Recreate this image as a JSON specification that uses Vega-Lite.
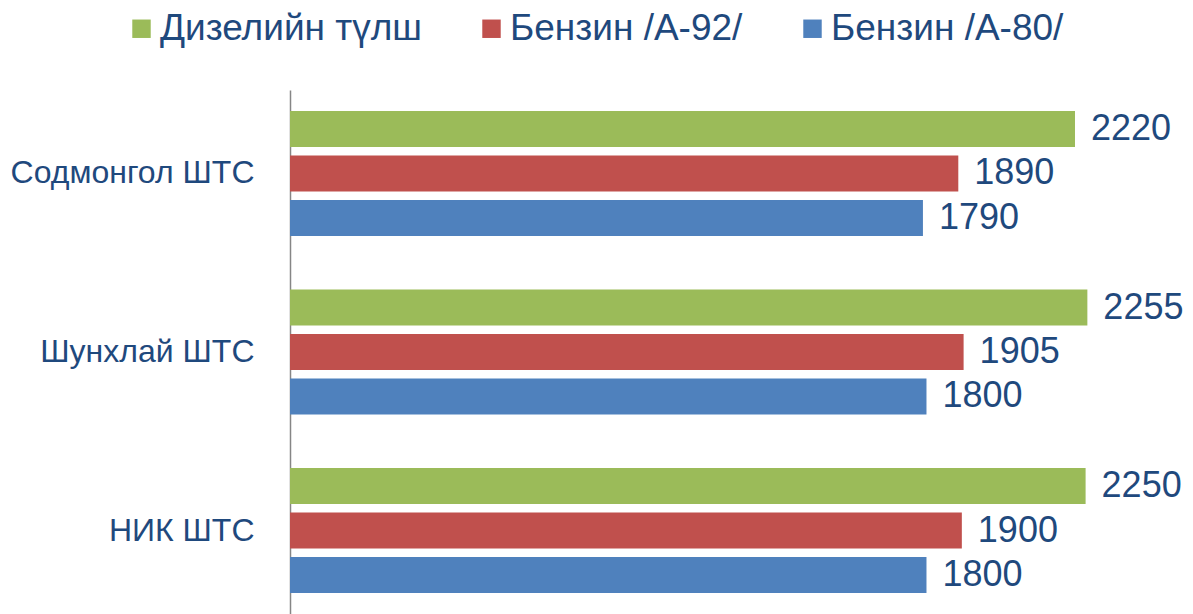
{
  "$schema": "https://vega.github.io/schema/vega-lite/v6.json",
  "width": 884,
  "height": 524,
  "autosize": {"type": "none"},
  "padding": {"left": 290, "top": 90, "right": 19, "bottom": 0},
  "background": "white",
  "config": {
    "view": {"stroke": null},
    "font": "Liberation Sans"
  },
  "data": {
    "values": [
      {"station": "Содмонгол ШТС", "fuel": "Дизелийн түлш", "value": 2220},
      {"station": "Содмонгол ШТС", "fuel": "Бензин /А-92/", "value": 1890},
      {"station": "Содмонгол ШТС", "fuel": "Бензин /А-80/", "value": 1790},
      {"station": "Шунхлай  ШТС", "fuel": "Дизелийн түлш", "value": 2255},
      {"station": "Шунхлай  ШТС", "fuel": "Бензин /А-92/", "value": 1905},
      {"station": "Шунхлай  ШТС", "fuel": "Бензин /А-80/", "value": 1800},
      {"station": "НИК ШТС", "fuel": "Дизелийн түлш", "value": 2250},
      {"station": "НИК ШТС", "fuel": "Бензин /А-92/", "value": 1900},
      {"station": "НИК ШТС", "fuel": "Бензин /А-80/", "value": 1800}
    ]
  },
  "encoding": {
    "y": {
      "field": "station",
      "type": "nominal",
      "sort": ["Содмонгол ШТС", "Шунхлай  ШТС", "НИК ШТС"],
      "scale": {"paddingInner": 0.3, "paddingOuter": 0.1177},
      "axis": {
        "title": null,
        "domain": true,
        "domainColor": "#868686",
        "domainWidth": 1.5,
        "ticks": false,
        "grid": false,
        "labelFontSize": 32,
        "labelColor": "#1F497D",
        "labelPadding": 36,
        "labelLimit": 0,
        "labelFont": "Liberation Sans"
      }
    },
    "yOffset": {
      "field": "fuel",
      "type": "nominal",
      "sort": ["Дизелийн түлш", "Бензин /А-92/", "Бензин /А-80/"],
      "scale": {"paddingInner": 0.19, "paddingOuter": 0}
    },
    "x": {
      "field": "value",
      "type": "quantitative",
      "scale": {"domain": [0, 2500]},
      "axis": null
    }
  },
  "layer": [
    {
      "mark": {"type": "bar"},
      "encoding": {
        "color": {
          "field": "fuel",
          "type": "nominal",
          "sort": ["Дизелийн түлш", "Бензин /А-92/", "Бензин /А-80/"],
          "scale": {
            "domain": ["Дизелийн түлш", "Бензин /А-92/", "Бензин /А-80/"],
            "range": ["#9BBB59", "#C0504D", "#4F81BD"]
          },
          "legend": {
            "title": null,
            "orient": "none",
            "direction": "horizontal",
            "legendX": -167,
            "legendY": -80,
            "padding": 0,
            "symbolType": "square",
            "symbolSize": 340,
            "symbolStrokeWidth": 0,
            "labelFontSize": 37,
            "labelColor": "#1F497D",
            "labelFont": "Liberation Sans",
            "labelOffset": 0,
            "columnPadding": 51,
            "labelLimit": 400
          }
        }
      }
    },
    {
      "mark": {
        "type": "text",
        "align": "left",
        "baseline": "middle",
        "dx": 16,
        "fontSize": 36,
        "color": "#1F497D",
        "font": "Liberation Sans"
      },
      "encoding": {
        "text": {"field": "value", "type": "quantitative"}
      }
    }
  ]
}
